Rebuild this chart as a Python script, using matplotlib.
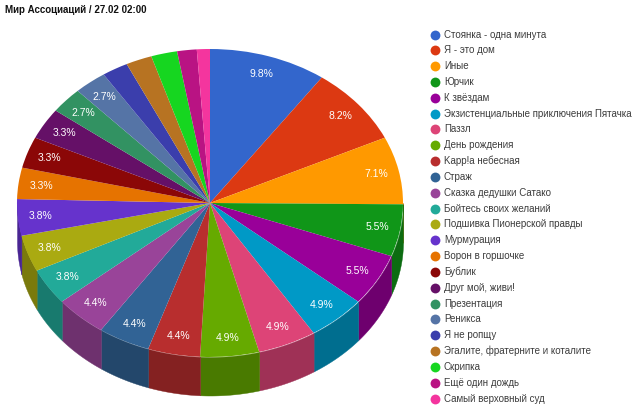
import numpy as np
import matplotlib
matplotlib.use('Agg')
import matplotlib.pyplot as plt

plt.rcParams['font.family'] = ['Liberation Sans', 'DejaVu Sans']

names = ['Стоянка - одна минута', 'Я - это дом', 'Иные', 'Юрчик', 'К звёздам',
         'Экзистенциальные приключения Пятачка', 'Паззл', 'День рождения',
         'Kapp!a небесная', 'Страж', 'Сказка дедушки Сатако', 'Бойтесь своих желаний',
         'Подшивка Пионерской правды', 'Мурмурация', 'Ворон в горшочке', 'Бублик',
         'Друг мой, живи!', 'Презентация', 'Реникса', 'Я не ропщу',
         'Эгалите, фратерните и коталите', 'Скрипка', 'Ещё один дождь', 'Самый верховный суд']
votes = [18, 15, 13, 10, 10, 9, 9, 9, 8, 8, 8, 7, 7, 7, 6, 6, 6, 5, 5, 4, 4, 4, 3, 2]
colors = ['#3366cc', '#dc3912', '#ff9900', '#109618', '#990099', '#0099c6', '#dd4477', '#66aa00',
          '#b82e2e', '#316395', '#994499', '#22aa99', '#aaaa11', '#6633cc', '#e67300', '#8b0707',
          '#651067', '#329262', '#5574a6', '#3b3eac', '#b77322', '#16d620', '#b91383', '#f4359e']
title = 'Мир Ассоциаций / 27.02 02:00'

W, H = 640, 408
depth = 0.25  # thickness of the pie, in radii

fig = plt.figure(figsize=(W / 100, H / 100), dpi=100)

# full figure axes in pixels for title and legend
bg = fig.add_axes([0, 0, 1, 1])
bg.set_xlim(0, W)
bg.set_ylim(H, 0)
bg.axis('off')
bg.text(5, 10, title, fontsize=7.05, fontweight='bold', color='#111111', va='center')
for i, (name, c) in enumerate(zip(names, colors)):
    y = 34.5 + i * 15.83
    bg.scatter([435], [y], s=50, color=c, linewidths=0)
    bg.text(444, y, name, fontsize=7.05, color='#3c3c3c', va='center')

# pie axes: unit circle is stretched to an ellipse
left, right, top, bottom = 17, 403, 49, 357
ax_bottom = bottom + depth * (bottom - top) / 2
ax = fig.add_axes([left / W, 1 - ax_bottom / H, (right - left) / W, (ax_bottom - top) / H])
ax.patch.set_alpha(0)


def pct_label(p):
    return '%.1f%%' % p if p >= 2.5 else ''


wedges, _, autotexts = ax.pie(votes, colors=colors, startangle=90, counterclock=False,
                              autopct=pct_label, pctdistance=0.88,
                              textprops={'color': 'white', 'fontsize': 7.5})
ax.set_aspect('auto')
ax.set_xlim(-1, 1)
ax.set_ylim(-1 - depth, 1)

# side wall of the lower half
for w, c in zip(wedges, colors):
    # wedge angles may run past 360 or below 0 with the start offset
    for shift in (-360, 0, 360):
        a1 = max(w.theta1 + shift, 180)
        a2 = min(w.theta2 + shift, 360)
        if a2 <= a1:
            continue
        t = np.radians(np.linspace(a1, a2, 40))
        x = np.cos(t)
        y = np.sin(t)
        rgb = np.array(matplotlib.colors.to_rgb(c)) * 0.72
        ax.fill_between(x, y, y - depth, color=rgb, linewidth=0.3, zorder=0.5)

fig.savefig('out.png', dpi=100)
